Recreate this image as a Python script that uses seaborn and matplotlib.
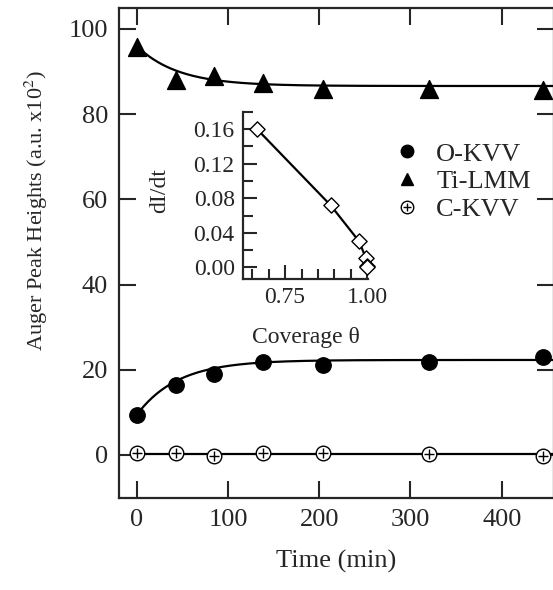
import numpy as np
import pandas as pd
import matplotlib
matplotlib.use("Agg")
import matplotlib.pyplot as plt
from matplotlib.ticker import MultipleLocator, FormatStrFormatter
from matplotlib.lines import Line2D
import seaborn as sns

# Data
time_min = [0, 43, 85, 138, 204, 320, 445]
o_kvv = [9.4, 16.4, 19.1, 21.9, 21.2, 21.8, 22.9]
ti_lmm = [95.8, 88.0, 88.9, 87.4, 85.9, 85.9, 85.6]
c_kvv = [0.4, 0.5, -0.3, 0.5, 0.4, 0.3, -0.3]

# exponential fit parameters (plateau, amplitude, tau in min)
o_fit = (22.3, -12.9, 45.0)
ti_fit = (86.6, 9.4, 45.0)
c_level = 0.3

# inset: dI/dt vs coverage
coverage = [0.665, 0.888, 0.975, 0.995, 1.0, 1.0]
didt = [0.160, 0.072, 0.030, 0.011, 0.002, 0.0]

sns.set_style("ticks")
plt.rcParams["font.family"] = ["Liberation Serif", "DejaVu Serif"]
plt.rcParams["mathtext.fontset"] = "stix"

fig = plt.figure(figsize=(5.53, 5.90), dpi=100)
ax = fig.add_axes([0.2152, 0.1559, 0.7866, 0.8305])

t = np.linspace(0, 460, 300)
fits = pd.DataFrame({
    "t": t,
    "o": o_fit[0] + o_fit[1] * np.exp(-t / o_fit[2]),
    "ti": ti_fit[0] + ti_fit[1] * np.exp(-t / ti_fit[2]),
    "c": np.full_like(t, c_level),
})
for col in ["o", "ti", "c"]:
    sns.lineplot(data=fits, x="t", y=col, ax=ax, color="black", lw=1.6)

df = pd.DataFrame({"t": time_min, "o": o_kvv, "ti": ti_lmm, "c": c_kvv})
sns.scatterplot(data=df, x="t", y="o", ax=ax, marker="o", s=125, color="black",
                edgecolor="black", zorder=3)
sns.scatterplot(data=df, x="t", y="ti", ax=ax, marker="^", s=165, color="black",
                edgecolor="black", zorder=3)
sns.scatterplot(data=df, x="t", y="c", ax=ax, marker="o", s=110, facecolor="white",
                edgecolor="black", linewidth=1.0, zorder=3, clip_on=False)
sns.scatterplot(data=df, x="t", y="c", ax=ax, marker="+", s=60, color="black",
                linewidth=1.0, zorder=4, clip_on=False)

ax.set_xlim(-19.4, 457.3)
ax.set_ylim(-10.1, 104.9)
ax.set_xticks([0, 100, 200, 300, 400])
ax.set_yticks([0, 20, 40, 60, 80, 100])
ax.tick_params(direction="in", length=12, width=1.5, labelsize=19,
               top=True, right=True, pad=8)
for sp in ax.spines.values():
    sp.set_linewidth(1.6)
ax.set_xlabel("Time (min)", fontsize=19, labelpad=13.5)
ax.set_ylabel("Auger Peak Heights (a.u. x10$^2$)", fontsize=16)
ax.yaxis.set_label_coords(-0.158, 0.586)

# legend with circled-plus handle
h_o = Line2D([], [], marker="o", color="black", ls="none", markersize=9)
h_ti = Line2D([], [], marker="^", color="black", ls="none", markersize=9)
h_c1 = Line2D([], [], marker="o", mfc="white", mec="black", ls="none",
              markersize=9, mew=1.0)
h_c2 = Line2D([], [], marker="+", color="black", ls="none", markersize=6, mew=1.0)
ax.legend([h_o, h_ti, (h_c1, h_c2)], ["O-KVV", "Ti-LMM", "C-KVV"],
          loc="upper left", bbox_to_anchor=(0.608, 0.748), frameon=False,
          fontsize=19, handlelength=1.0, handletextpad=0.6, labelspacing=0.16,
          borderaxespad=0)

# inset
ins = fig.add_axes([0.4394, 0.5271, 0.2261, 0.2831])
ins.patch.set_alpha(0)
inset_df = pd.DataFrame({"cov": coverage, "r": didt})
sns.lineplot(data=inset_df, x="cov", y="r", ax=ins, color="black", lw=1.6,
             sort=False)
sns.scatterplot(data=inset_df, x="cov", y="r", ax=ins, marker="D", s=60,
                facecolor="white", edgecolor="black", linewidth=1.0,
                zorder=3, clip_on=False)
ins.set_xlim(0.622, 1.002)
ins.set_ylim(-0.0136, 0.18)
ins.xaxis.set_major_locator(MultipleLocator(0.25))
ins.xaxis.set_minor_locator(MultipleLocator(0.05))
ins.yaxis.set_major_locator(MultipleLocator(0.04))
ins.yaxis.set_minor_locator(MultipleLocator(0.02))
ins.xaxis.set_major_formatter(FormatStrFormatter("%.2f"))
ins.yaxis.set_major_formatter(FormatStrFormatter("%.2f"))
ins.tick_params(which="major", direction="in", length=10, width=1.5,
                labelsize=17, pad=6)
ins.tick_params(which="minor", direction="in", length=7, width=1.5)
sns.despine(ax=ins)
for sp in ins.spines.values():
    sp.set_linewidth(1.6)
ins.set_xlabel("Coverage θ", fontsize=17, labelpad=13.5)
ins.set_ylabel("dI/dt", fontsize=17)
ins.yaxis.set_label_coords(-0.58, 0.53)

fig.savefig("out.png", dpi=100)
